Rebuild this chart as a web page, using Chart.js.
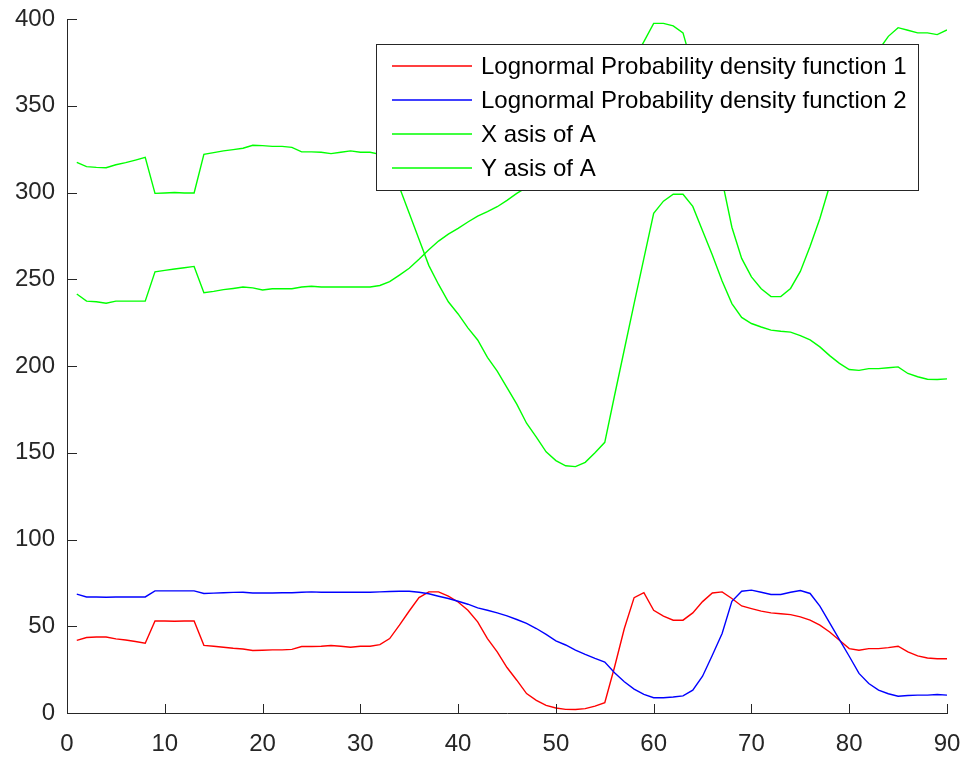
<!DOCTYPE html>
<html>
<head>
<meta charset="utf-8">
<script src="https://cdn.jsdelivr.net/npm/chart.js@4.4.1/dist/chart.umd.min.js"></script>
<style>
    html, body { margin: 0; padding: 0; background: #fff; }
    canvas { display: block; }
</style>
</head>
<body>
<canvas id="chart" width="966" height="759"></canvas>
<script>
// sample index (x axis)
const xVals = [
    1, 2, 3, 4, 5, 6, 7, 8, 9, 10, 11, 12, 13, 14, 15, 16, 17, 18, 19, 20,
    21, 22, 23, 24, 25, 26, 27, 28, 29, 30, 31, 32, 33, 34, 35, 36, 37, 38, 39, 40,
    41, 42, 43, 44, 45, 46, 47, 48, 49, 50, 51, 52, 53, 54, 55, 56, 57, 58, 59, 60,
    61, 62, 63, 64, 65, 66, 67, 68, 69, 70, 71, 72, 73, 74, 75, 76, 77, 78, 79, 80,
    81, 82, 83, 84, 85, 86, 87, 88, 89, 90
];

const pdf1 = [
    41.9, 43.5, 43.8, 43.8, 42.7, 42.1, 41.2, 40.2, 53.1, 53.0,
    52.9, 53.0, 53.0, 39.0, 38.5, 37.9, 37.3, 36.9, 36.0, 36.2,
    36.4, 36.4, 36.7, 38.3, 38.3, 38.5, 38.9, 38.5, 37.9, 38.5,
    38.5, 39.4, 42.9, 50.6, 58.8, 66.5, 69.8, 69.8, 67.3, 64.0,
    59.2, 52.5, 42.9, 35.2, 26.2, 18.9, 11.2, 7.3, 4.4, 2.9,
    2.1, 2.0, 2.5, 4.0, 6.0, 26.5, 48.7, 66.5, 69.4, 59.2,
    55.8, 53.5, 53.5, 57.7, 64.2, 69.2, 69.8, 66.0, 61.7, 60.2,
    58.7, 57.7, 57.2, 56.7, 55.4, 53.5, 50.6, 46.7, 41.9, 37.1,
    36.2, 37.1, 37.1, 37.7, 38.5, 35.2, 32.9, 31.7, 31.3, 31.3
];

const pdf2 = [
    68.5, 66.9, 66.9, 66.7, 66.9, 66.9, 66.9, 66.9, 70.4, 70.4,
    70.4, 70.4, 70.4, 68.9, 69.1, 69.3, 69.5, 69.6, 69.2, 69.2,
    69.2, 69.3, 69.3, 69.6, 69.8, 69.6, 69.6, 69.6, 69.6, 69.6,
    69.6, 69.8, 70.0, 70.2, 70.2, 69.6, 68.7, 67.3, 66.0, 64.4,
    62.7, 60.6, 59.2, 57.7, 56.0, 53.9, 51.6, 48.7, 45.3, 41.6,
    39.2, 36.3, 33.8, 31.5, 29.4, 23.2, 18.0, 13.8, 10.7, 8.8,
    8.8, 9.2, 9.9, 13.2, 21.2, 33.3, 45.8, 64.4, 70.2, 70.8,
    69.6, 68.3, 68.3, 69.6, 70.6, 68.9, 61.6, 52.0, 42.3, 32.7,
    22.8, 17.0, 13.2, 11.1, 9.7, 10.1, 10.3, 10.3, 10.7, 10.3
];

const xAxisA = [
    317.4, 314.9, 314.5, 314.3, 316.0, 317.2, 318.7, 320.3, 299.5, 299.7,
    300.0, 299.7, 299.7, 322.0, 323.0, 324.0, 324.7, 325.5, 327.2, 327.0,
    326.6, 326.6, 326.0, 323.4, 323.4, 323.2, 322.4, 323.2, 324.0, 323.2,
    323.2, 322.0, 313.0, 303.0, 288.0, 273.0, 258.0, 247.0, 237.0, 230.0,
    222.0, 215.0, 205.0, 197.0, 187.5, 178.0, 167.0, 159.0, 150.5, 145.5,
    142.5, 142.0, 144.5, 150.0, 156.0, 183.0, 209.5, 236.0, 262.0, 288.0,
    295.0, 299.0, 299.0, 292.0, 278.0, 264.0, 249.0, 236.0, 228.0, 224.5,
    222.5, 220.7, 220.0, 219.5, 217.5, 215.0, 211.0, 206.0, 201.5, 198.0,
    197.5, 198.5, 198.5, 199.0, 199.5, 195.7, 193.8, 192.4, 192.2, 192.6
];

const yAxisA = [
    241.5, 237.4, 237.0, 236.2, 237.4, 237.4, 237.4, 237.4, 254.3, 255.1,
    255.9, 256.6, 257.4, 242.2, 243.0, 244.0, 244.7, 245.5, 245.0, 243.8,
    244.5, 244.5, 244.5, 245.5, 246.0, 245.5, 245.5, 245.5, 245.5, 245.5,
    245.5, 246.4, 248.6, 252.4, 256.3, 261.5, 267.0, 272.0, 276.0, 279.3,
    283.0, 286.4, 289.0, 291.8, 295.5, 299.5, 303.0, 306.0, 310.0, 315.0,
    320.0, 326.0, 333.0, 340.0, 348.0, 357.0, 367.0, 377.0, 387.0, 397.5,
    397.5, 396.0, 392.0, 372.0, 350.0, 328.0, 307.0, 280.0, 262.0, 251.4,
    244.5, 240.0, 240.0, 244.7, 254.5, 269.0, 285.0, 304.0, 322.0, 342.0,
    360.0, 373.0, 382.0, 390.0, 395.0, 393.5, 392.0, 392.0, 391.0, 393.7
];

const seriesNames = [
    "Lognormal Probability density function 1",
    "Lognormal Probability density function 2",
    "X asis of A",
    "Y asis of A"
];
const seriesColors = ["#ff0000", "#0000ff", "#00ff00", "#00ff00"];

const FONT = '"Liberation Sans", Arial, Helvetica, sans-serif';
const AXIS_COLOR = "#262626";

function toPoints(values) {
    return values.map((v, i) => ({ x: xVals[i], y: v }));
}

// MATLAB style ticks pointing into the plot
const innerTicks = {
    id: "innerTicks",
    afterDatasetsDraw(chart) {
        const ctx = chart.ctx;
        const area = chart.chartArea;
        const xs = chart.scales.x;
        const ys = chart.scales.y;
        ctx.save();
        ctx.strokeStyle = AXIS_COLOR;
        ctx.lineWidth = 1;
        ctx.beginPath();
        xs.ticks.forEach(t => {
            const px = Math.round(xs.getPixelForValue(t.value)) + 0.5;
            ctx.moveTo(px, area.bottom);
            ctx.lineTo(px, area.bottom - 9);
        });
        ys.ticks.forEach(t => {
            const py = Math.round(ys.getPixelForValue(t.value)) + 0.5;
            ctx.moveTo(area.left, py);
            ctx.lineTo(area.left + 10, py);
        });
        ctx.stroke();
        ctx.restore();
    }
};

// boxed legend inside the axes, top right
const boxLegend = {
    id: "boxLegend",
    afterDraw(chart) {
        const ctx = chart.ctx;
        const box = { left: 376.5, top: 44.5, right: 918.5, bottom: 190.5 };
        ctx.save();
        ctx.fillStyle = "#ffffff";
        ctx.fillRect(box.left, box.top, box.right - box.left, box.bottom - box.top);
        ctx.strokeStyle = AXIS_COLOR;
        ctx.lineWidth = 1;
        ctx.strokeRect(box.left, box.top, box.right - box.left, box.bottom - box.top);

        ctx.font = "24px " + FONT;
        ctx.textBaseline = "middle";
        ctx.textAlign = "left";
        chart.data.datasets.forEach((ds, i) => {
            const y = 66 + i * 34;
            ctx.strokeStyle = ds.borderColor;
            ctx.lineWidth = 1.3;
            ctx.beginPath();
            ctx.moveTo(392, y);
            ctx.lineTo(472, y);
            ctx.stroke();
            ctx.fillStyle = "#000000";
            ctx.fillText(ds.label, 481, y + 1);
        });
        ctx.restore();
    }
};

const datasets = [pdf1, pdf2, xAxisA, yAxisA].map((vals, i) => ({
    label: seriesNames[i],
    data: toPoints(vals),
    borderColor: seriesColors[i],
    backgroundColor: seriesColors[i],
    borderWidth: 1.4,
    pointRadius: 0,
    tension: 0,
    fill: false,
    order: 4 - i
}));

const ctx = document.getElementById("chart").getContext("2d");
new Chart(ctx, {
    type: "line",
    data: { datasets: datasets },
    options: {
        responsive: false,
        animation: false,
        devicePixelRatio: 1,
        layout: { padding: { top: 19, right: 19, left: 0, bottom: 0 } },
        plugins: {
            legend: { display: false },
            tooltip: { enabled: false }
        },
        scales: {
            x: {
                type: "linear",
                min: 0,
                max: 90,
                grid: { display: false, drawTicks: false },
                border: { display: true, color: AXIS_COLOR, width: 1 },
                ticks: {
                    stepSize: 10,
                    color: AXIS_COLOR,
                    padding: 17,
                    maxRotation: 0,
                    font: { family: FONT, size: 24 }
                },
                afterFit(scale) {
                    scale.height = 46;
                    scale.paddingLeft = 0;
                    scale.paddingRight = 0;
                }
            },
            y: {
                type: "linear",
                min: 0,
                max: 400,
                grid: { display: false, drawTicks: false },
                border: { display: true, color: AXIS_COLOR, width: 1 },
                ticks: {
                    stepSize: 50,
                    color: AXIS_COLOR,
                    padding: 12,
                    font: { family: FONT, size: 24 }
                },
                afterFit(scale) {
                    scale.width = 67;
                    scale.paddingTop = 0;
                    scale.paddingBottom = 0;
                }
            }
        }
    },
    plugins: [innerTicks, boxLegend]
});
</script>
</body>
</html>
